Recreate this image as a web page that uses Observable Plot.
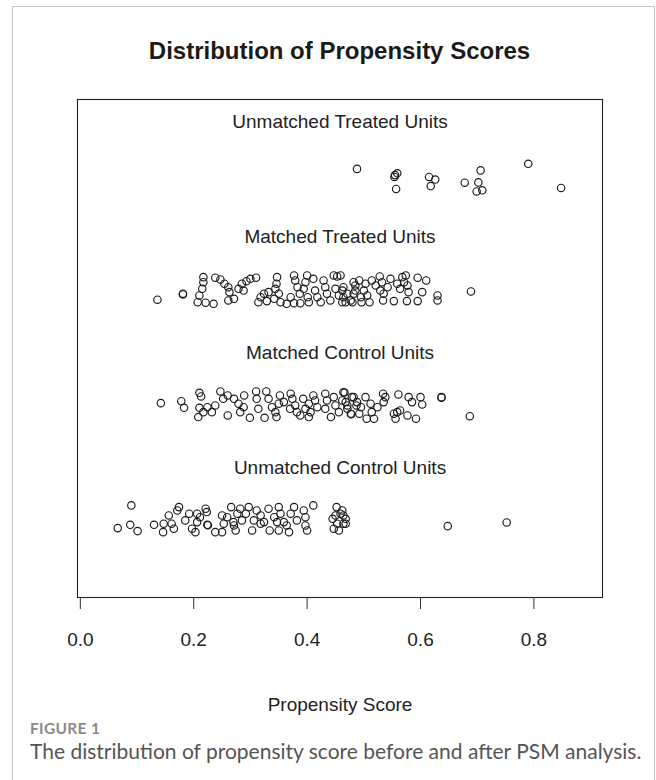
<!DOCTYPE html>
<html>
<head>
<meta charset="utf-8">
<script src="https://cdn.jsdelivr.net/npm/d3@7"></script>
<script src="https://cdn.jsdelivr.net/npm/@observablehq/plot@0.6"></script>
<style>
  html, body { margin: 0; padding: 0; background: #fff; }
  #wrap { position: relative; width: 656px; height: 780px; overflow: hidden; }
  #card { position: absolute; left: 12px; top: 6px; width: 643px; height: 820px; border: 1px solid #c4c4c4; box-sizing: border-box; }
  #title { position: absolute; left: 77px; width: 525px; top: 37px; line-height: 28px; text-align: center;
           font: bold 24px "Liberation Sans", Arial, sans-serif; color: #1a1a1a; }
  #chart { position: absolute; left: 0; top: 89px; }
  #fig { position: absolute; left: 30px; top: 719px; font: bold 15.5px Lato, "Open Sans", sans-serif; color: #8a8a8a; letter-spacing: 0.3px; }
  #cap { position: absolute; left: 30px; top: 738px; font: 21px Lato, "Open Sans", sans-serif; color: #555; white-space: nowrap; }
</style>
</head>
<body>
<div id="wrap">
  <div id="card"></div>
  <div id="title">Distribution of Propensity Scores</div>
  <div id="chart"></div>
  <div id="fig">FIGURE 1</div>
  <div id="cap">The distribution of propensity score before and after PSM analysis.</div>
</div>
<script>
// Group labels and their vertical positions (R plot coordinates)
const groups = ["Unmatched Treated Units", "Matched Treated Units", "Matched Control Units", "Unmatched Control Units"];
const labelY = [4, 3, 2, 1];
const centerY = [3.5, 2.5, 1.5, 0.5];
const xTicks = [0, 0.2, 0.4, 0.6, 0.8];
const xLabel = "Propensity Score";

// Unmatched treated units: propensity score and vertical jitter
const utX = [0.488,0.555,0.559,0.554,0.557,0.615,0.626,0.618,0.678,0.702,0.699,0.709,0.706,0.790,0.848];
const utJ = [0.058,0.004,0.02,-0.012,-0.116,-0.012,-0.034,-0.091,-0.062,-0.059,-0.138,-0.128,0.045,0.102,-0.107];

// Matched treated units
const mtX = [0.136,0.181,0.181,0.217,0.217,0.215,0.210,0.207,0.221,0.235,0.238,0.247,0.254,0.261,0.263,0.261,0.271,0.279,0.285,0.288,
  0.293,0.300,0.310,0.318,0.324,0.332,0.314,0.329,0.342,0.347,0.346,0.344,0.350,0.353,0.364,0.371,0.377,0.379,0.383,0.387,
  0.377,0.388,0.400,0.397,0.394,0.401,0.403,0.411,0.414,0.418,0.424,0.429,0.432,0.435,0.441,0.447,0.453,0.450,0.456,0.462,
  0.464,0.471,0.477,0.482,0.485,0.459,0.462,0.464,0.468,0.482,0.485,0.492,0.495,0.496,0.500,0.503,0.506,0.480,0.510,0.514,
  0.521,0.528,0.529,0.532,0.535,0.534,0.542,0.547,0.553,0.559,0.564,0.568,0.574,0.571,0.577,0.579,0.576,0.595,0.595,0.603,
  0.610,0.630,0.630,0.689];
const mtJ = [-0.077,-0.025,-0.031,0.119,0.075,0.018,-0.040,-0.098,-0.103,-0.112,0.114,0.099,0.062,0.032,-0.011,-0.083,-0.069,0.018,0.062,0.003,
  0.084,0.105,0.114,-0.055,-0.025,-0.011,-0.098,-0.089,-0.069,0.119,0.062,0.018,-0.025,-0.098,-0.112,-0.055,0.134,0.090,0.032,-0.025,
  -0.107,-0.107,0.134,0.075,0.018,-0.055,-0.098,0.105,0.003,-0.055,-0.098,0.090,0.032,-0.025,-0.083,0.134,0.125,0.018,-0.040,-0.098,
  0.032,-0.025,-0.083,0.075,0.003,0.134,0.003,-0.055,-0.098,-0.025,0.047,0.090,-0.055,-0.098,0.003,0.062,-0.040,-0.098,-0.098,0.090,
  0.047,0.125,0.003,0.075,-0.025,-0.083,0.032,0.105,-0.089,0.062,0.018,0.119,0.134,0.075,0.047,-0.011,-0.089,0.114,-0.089,-0.011,
  0.090,-0.040,-0.083,-0.005];

// Matched control units
const mcX = [0.142,0.178,0.183,0.210,0.213,0.210,0.208,0.217,0.224,0.232,0.238,0.247,0.252,0.260,0.260,0.271,0.279,0.282,0.289,0.288,
  0.299,0.310,0.311,0.314,0.325,0.328,0.332,0.338,0.344,0.346,0.352,0.350,0.359,0.371,0.374,0.370,0.379,0.382,0.388,0.393,
  0.397,0.403,0.406,0.411,0.414,0.418,0.403,0.432,0.435,0.432,0.442,0.447,0.450,0.456,0.464,0.468,0.471,0.477,0.482,0.487,
  0.466,0.462,0.471,0.478,0.479,0.488,0.492,0.495,0.503,0.505,0.512,0.514,0.518,0.524,0.534,0.538,0.535,0.561,0.553,0.559,
  0.556,0.564,0.577,0.579,0.585,0.592,0.600,0.603,0.637,0.637,0.687];
const mcJ = [0.026,0.043,-0.014,0.116,0.084,-0.014,-0.095,-0.052,-0.009,-0.052,0.006,0.127,0.064,0.093,-0.081,0.064,0.021,-0.052,0.093,-0.009,
  -0.101,0.127,0.064,-0.023,-0.101,0.127,0.064,-0.009,-0.052,-0.095,0.093,0.021,0.035,0.108,0.064,-0.023,0.006,-0.052,-0.081,0.064,
  -0.023,0.021,-0.052,0.093,0.049,-0.009,-0.095,0.108,0.049,-0.023,-0.095,0.078,0.006,-0.052,0.121,0.035,-0.023,-0.066,0.078,0.006,
  0.118,0.049,0.006,-0.070,0.078,0.035,-0.066,-0.009,0.078,-0.109,0.021,-0.052,-0.109,-0.009,0.108,0.078,0.035,0.101,-0.066,-0.052,
  -0.109,-0.037,-0.081,0.078,0.035,-0.109,0.078,0.015,0.078,0.073,-0.087];

// Unmatched control units
const ucX = [0.090,0.066,0.088,0.101,0.130,0.146,0.147,0.156,0.161,0.165,0.171,0.174,0.185,0.192,0.197,0.203,0.206,0.206,0.211,0.221,
  0.223,0.224,0.225,0.238,0.250,0.253,0.259,0.266,0.270,0.274,0.277,0.282,0.285,0.292,0.297,0.303,0.306,0.311,0.318,0.324,
  0.332,0.334,0.342,0.350,0.353,0.350,0.359,0.364,0.368,0.371,0.377,0.382,0.394,0.397,0.400,0.397,0.411,0.452,0.450,0.459,
  0.445,0.453,0.464,0.447,0.456,0.468,0.250,0.271,0.318,0.347,0.462,0.464,0.468,0.648,0.752];
const ucJ = [0.139,-0.058,-0.029,-0.084,-0.029,-0.093,-0.020,0.052,-0.020,-0.063,0.095,0.124,0.009,0.067,-0.063,-0.093,0.067,-0.006,0.037,0.110,
  0.081,-0.029,-0.033,-0.093,0.052,-0.020,0.037,0.124,-0.006,-0.078,0.067,0.110,0.009,0.067,0.124,-0.078,0.009,0.095,0.052,-0.006,
  0.110,-0.078,0.037,0.124,0.067,-0.078,-0.006,-0.035,-0.093,0.067,0.124,0.009,0.095,-0.035,-0.078,0.037,0.139,0.124,0.052,0.067,
  0.023,-0.020,-0.020,-0.063,-0.078,0.023,-0.093,-0.035,-0.020,-0.006,0.095,0.052,-0.020,-0.041,-0.009];

const xs = [utX, mtX, mcX, ucX];
const js = [utJ, mtJ, mcJ, ucJ];
const points = [];
xs.forEach((arr, g) => arr.forEach((v, i) => points.push({group: groups[g], x: v, y: centerY[g] + js[g][i]})));

const xDomain = [-0.005, 0.921];
const yDomain = [-0.16, 4.16];
const labels = groups.map((g, i) => ({label: g, x: (xDomain[0] + xDomain[1]) / 2, y: labelY[i]}));

const chart = Plot.plot({
  width: 656,
  height: 633,
  marginLeft: 77,
  marginRight: 54,
  marginTop: 10,
  marginBottom: 125,
  style: {fontFamily: "'Liberation Sans', Arial, sans-serif", fontSize: "19px", color: "#222", background: "transparent"},
  x: {domain: xDomain},
  y: {domain: yDomain, axis: null},
  marks: [
    Plot.frame({stroke: "#222", strokeWidth: 1.1}),
    Plot.axisX({ticks: xTicks, tickFormat: d3.format(".1f"), tickSize: 12, tickPadding: 23, label: null, fontSize: 19, stroke: "#333"}),
    Plot.text(labels, {x: "x", y: "y", text: "label", fontSize: 19, fill: "#222", dy: 4}),
    Plot.dot(points, {x: "x", y: "y", r: 3.7, stroke: "#1a1a1a", strokeWidth: 1.15, fill: "none"}),
    Plot.text([xLabel], {frameAnchor: "bottom", text: d => d, dy: 113, fontSize: 19, fill: "#222"})
  ]
});
document.getElementById("chart").appendChild(chart);
</script>
</body>
</html>
